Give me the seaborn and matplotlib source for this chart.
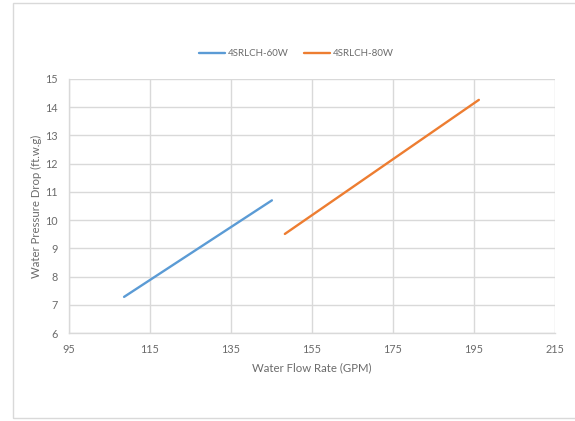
import matplotlib
matplotlib.use("Agg")
import matplotlib.pyplot as plt
import matplotlib.patches as mpatches
import seaborn as sns
import pandas as pd

# Data
flow_60w = [108.6, 145.1]
wpd_60w = [7.28, 10.70]
flow_80w = [148.3, 196.2]
wpd_80w = [9.51, 14.26]
series_names = ["4SRLCH-60W", "4SRLCH-80W"]
x_ticks = [95, 115, 135, 155, 175, 195, 215]
y_ticks = [6, 7, 8, 9, 10, 11, 12, 13, 14, 15]

df = pd.concat([
    pd.DataFrame({"flow": flow_60w, "wpd": wpd_60w, "series": series_names[0]}),
    pd.DataFrame({"flow": flow_80w, "wpd": wpd_80w, "series": series_names[1]}),
], ignore_index=True)

sns.set_style("white")
plt.rcParams["font.family"] = ["Lato", "DejaVu Sans"]

text_c = "#6b6b6b"
grid_c = "#d9d9d9"

fig = plt.figure(figsize=(5.75, 4.21), dpi=100)
ax = fig.add_axes([0.12, 0.209, 0.8452, 0.6034])

sns.lineplot(data=df, x="flow", y="wpd", hue="series", palette=["#5B9BD5", "#ED7D31"],
             linewidth=1.7, ax=ax, sort=False, estimator=None, legend=True)

ax.set_xlim(95, 215)
ax.set_ylim(6, 15)
ax.set_xticks(x_ticks)
ax.set_yticks(y_ticks)
ax.grid(True, color=grid_c, linewidth=1.0)
ax.set_axisbelow(True)
for s in ["top", "right"]:
    ax.spines[s].set_visible(False)
for s in ["left", "bottom"]:
    ax.spines[s].set_color(grid_c)
    ax.spines[s].set_linewidth(1.0)
ax.tick_params(axis="both", colors=grid_c, labelcolor=text_c, labelsize=7.8,
               length=4, width=1.0, direction="out", pad=4)
ax.set_xlabel("Water Flow Rate (GPM)", color=text_c, fontsize=8.2, labelpad=5)
ax.set_ylabel("Water Pressure Drop (ft.w.g)", color=text_c, fontsize=8.2, labelpad=2)

leg = ax.legend(loc="center", bbox_to_anchor=(0.516, 0.872), bbox_transform=fig.transFigure,
                ncol=2, frameon=False, fontsize=7.0, handlelength=2.6, columnspacing=1.6,
                handletextpad=0.35)
for t in leg.get_texts():
    t.set_color(text_c)

# Chart-area border
fig.patches.append(mpatches.Rectangle((12.5 / 575, 1 - 417.5 / 421), 1.0, (417.5 - 2.5) / 421,
                                      transform=fig.transFigure, fill=False,
                                      edgecolor=grid_c, linewidth=1.0))

fig.savefig("out.png", dpi=100)
